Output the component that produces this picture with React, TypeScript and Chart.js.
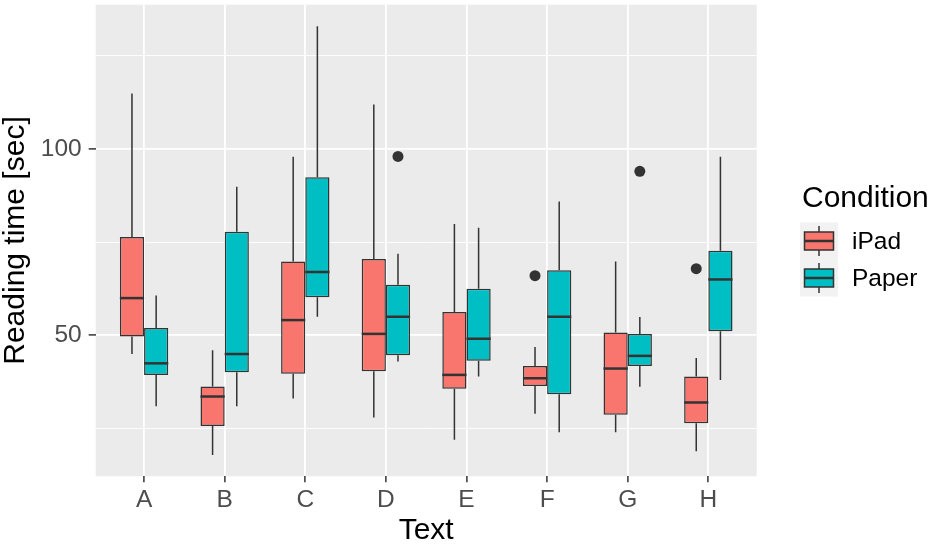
import { useEffect, useRef } from "react"
import { Chart, registerables } from "chart.js"

Chart.register(...registerables)

// texts on the x axis
const categories = ["A", "B", "C", "D", "E", "F", "G", "H"]

// iPad condition: five-number summaries per text, plus outliers
const ipadMin = [45.0, 17.9, 33.1, 28.0, 22.0, 29.0, 24.0, 18.9]
const ipadQ1 = [49.7, 25.7, 39.7, 40.4, 35.7, 36.4, 28.7, 26.4]
const ipadMedian = [60.0, 33.6, 54.1, 50.4, 39.4, 38.5, 41.1, 32.0]
const ipadQ3 = [76.4, 36.3, 69.8, 70.5, 56.3, 41.8, 50.8, 39.0]
const ipadMax = [114.9, 46.0, 97.9, 111.9, 79.9, 46.9, 69.8, 43.9]
const ipadOutliers = [[], [], [], [], [], [66.0], [], [67.9]]

// Paper condition
const paperMin = [31.0, 31.0, 55.0, 43.0, 39.0, 24.0, 36.2, 38.0]
const paperQ1 = [39.4, 40.1, 60.2, 44.7, 43.2, 34.2, 41.8, 51.1]
const paperMedian = [42.5, 45.0, 67.0, 55.0, 49.1, 55.0, 44.5, 65.0]
const paperQ3 = [52.0, 77.8, 92.4, 63.6, 62.5, 67.5, 50.4, 72.7]
const paperMax = [60.7, 89.9, 132.9, 71.9, 78.9, 85.9, 54.9, 97.9]
const paperOutliers = [[], [], [], [98.0], [], [], [94.0], []]

// y grid: labelled major lines and unlabelled minor lines
const yGridValues = [25, 50, 75, 100, 125]
const yTickLabels = [50, 100]

const FONT = "'Liberation Sans', Arial, Helvetica, sans-serif"
const LINE = "#333333"
const BOX_LW = 1.5
const MEDIAN_LW = 2.5

const series = [
  { label: "iPad", fill: "#F8766D", min: ipadMin, q1: ipadQ1, median: ipadMedian, q3: ipadQ3, max: ipadMax, outliers: ipadOutliers },
  { label: "Paper", fill: "#00BFC4", min: paperMin, q1: paperQ1, median: paperMedian, q3: paperQ3, max: paperMax, outliers: paperOutliers },
]

const panelPlugin = {
  id: "panel",
  beforeDraw(chart: any) {
    const { ctx, chartArea } = chart
    ctx.save()
    ctx.fillStyle = "#EBEBEB"
    ctx.fillRect(chartArea.left, chartArea.top, chartArea.right - chartArea.left, chartArea.bottom - chartArea.top)
    ctx.restore()
  },
}

const boxPartsPlugin = {
  id: "boxParts",
  beforeDatasetsDraw(chart: any) {
    // whiskers go under the boxes
    const { ctx } = chart
    const y = chart.scales.y
    ctx.save()
    ctx.strokeStyle = LINE
    ctx.lineWidth = BOX_LW
    series.forEach((s, d) => {
      chart.getDatasetMeta(d).data.forEach((bar: any, i: number) => {
        const { x } = bar.getProps(["x"], true)
        ctx.beginPath()
        ctx.moveTo(x, y.getPixelForValue(s.q3[i]))
        ctx.lineTo(x, y.getPixelForValue(s.max[i]))
        ctx.moveTo(x, y.getPixelForValue(s.q1[i]))
        ctx.lineTo(x, y.getPixelForValue(s.min[i]))
        ctx.stroke()
      })
    })
    ctx.restore()
  },
  afterDatasetsDraw(chart: any) {
    const { ctx } = chart
    const y = chart.scales.y
    ctx.save()
    series.forEach((s, d) => {
      chart.getDatasetMeta(d).data.forEach((bar: any, i: number) => {
        const { x, width } = bar.getProps(["x", "width"], true)
        const my = y.getPixelForValue(s.median[i])
        ctx.strokeStyle = LINE
        ctx.lineWidth = MEDIAN_LW
        ctx.beginPath()
        ctx.moveTo(x - width / 2, my)
        ctx.lineTo(x + width / 2, my)
        ctx.stroke()
        ctx.fillStyle = LINE
        s.outliers[i].forEach((v) => {
          ctx.beginPath()
          ctx.arc(x, y.getPixelForValue(v), 5.5, 0, Math.PI * 2)
          ctx.fill()
        })
      })
    })
    ctx.restore()
  },
}

const legendPlugin = {
  id: "boxLegend",
  afterDraw(chart: any) {
    const { ctx } = chart
    ctx.save()
    ctx.fillStyle = "#000000"
    ctx.font = `30px ${FONT}`
    ctx.textBaseline = "alphabetic"
    ctx.textAlign = "left"
    ctx.fillText("Condition", 802, 206.5)

    ctx.fillStyle = "#F2F2F2"
    ctx.fillRect(800, 222.5, 38, 74)

    series.forEach((s, k) => {
      const cy = 241 + k * 37
      ctx.strokeStyle = LINE
      ctx.lineWidth = BOX_LW
      ctx.beginPath()
      ctx.moveTo(819, cy - 15)
      ctx.lineTo(819, cy + 15)
      ctx.stroke()
      ctx.fillStyle = s.fill
      ctx.fillRect(804.5, cy - 9, 29, 18)
      ctx.strokeRect(804.5, cy - 9, 29, 18)
      ctx.lineWidth = MEDIAN_LW
      ctx.beginPath()
      ctx.moveTo(804.5, cy)
      ctx.lineTo(833.5, cy)
      ctx.stroke()

      ctx.fillStyle = "#000000"
      ctx.font = `24.5px ${FONT}`
      ctx.textBaseline = "middle"
      ctx.fillText(s.label, 852, cy + 1)
    })
    ctx.restore()
  },
}

export default function App() {
  const chartRef = useRef<HTMLCanvasElement>(null)
  const chartInstance = useRef<Chart | null>(null)

  useEffect(() => {
    if (!chartRef.current) return
    if (chartInstance.current) chartInstance.current.destroy()
    const ctx = chartRef.current.getContext("2d")
    if (!ctx) return

    chartInstance.current = new Chart(ctx, {
      type: "bar",
      data: {
        datasets: series.map((s) => ({
          label: s.label,
          data: categories.map((_, i) => ({ x: i, y: [s.q1[i], s.q3[i]] })) as any,
          backgroundColor: s.fill,
          borderColor: LINE,
          borderWidth: BOX_LW,
          borderSkipped: false,
          categoryPercentage: 0.6,
          barPercentage: 1.0,
        })),
      },
      options: {
        responsive: false,
        animation: false,
        events: [],
        layout: { padding: { top: 4.7, right: 178.3, left: 0, bottom: 0 } },
        plugins: {
          legend: { display: false },
          tooltip: { enabled: false },
        },
        scales: {
          x: {
            type: "linear",
            min: -0.6,
            max: 7.6,
            offset: false,
            afterBuildTicks: (axis: any) => {
              axis.ticks = categories.map((_, i) => ({ value: i }))
            },
            afterFit: (axis: any) => {
              axis.height = 70.7
              axis.paddingLeft = 0
              axis.paddingRight = 0
            },
            border: { display: false },
            grid: {
              offset: false,
              color: "#FFFFFF",
              lineWidth: 1.8,
              tickColor: LINE,
              tickLength: 6,
              tickWidth: BOX_LW,
            },
            ticks: {
              autoSkip: false,
              maxRotation: 0,
              padding: 3,
              color: "#4D4D4D",
              font: { family: FONT, size: 24.5 },
              callback: (v: any) => categories[v] ?? "",
            },
            title: {
              display: true,
              text: "Text",
              color: "#000000",
              font: { family: FONT, size: 30, lineHeight: 1 },
              padding: { top: 0, bottom: 1 },
            },
          },
          y: {
            min: 12.2,
            max: 138.7,
            beginAtZero: false,
            afterBuildTicks: (axis: any) => {
              axis.ticks = yGridValues.map((v) => ({ value: v }))
            },
            afterFit: (axis: any) => {
              axis.width = 95.7
              axis.paddingTop = 0
              axis.paddingBottom = 0
            },
            border: { display: false },
            grid: {
              color: "#FFFFFF",
              lineWidth: (c: any) => (yTickLabels.includes(c.tick?.value) ? 1.8 : 0.9),
              tickColor: (c: any) => (yTickLabels.includes(c.tick?.value) ? LINE : "rgba(0,0,0,0)"),
              tickLength: 7,
              tickWidth: BOX_LW,
            },
            ticks: {
              autoSkip: false,
              padding: 7,
              color: "#4D4D4D",
              font: { family: FONT, size: 24.5 },
              callback: (v: any) => (yTickLabels.includes(v) ? String(v) : ""),
            },
            title: {
              display: true,
              text: "Reading time [sec]",
              color: "#000000",
              font: { family: FONT, size: 30, lineHeight: 1 },
              padding: { top: 1, bottom: 0 },
            },
          },
        },
      },
      plugins: [panelPlugin, boxPartsPlugin, legendPlugin],
    })

    return () => {
      if (chartInstance.current) {
        chartInstance.current.destroy()
        chartInstance.current = null
      }
    }
  }, [])

  return (
    <div style={{ position: "absolute", left: 0, top: 0, width: 935, height: 547, background: "#FFFFFF" }}>
      <canvas ref={chartRef} width={935} height={547} />
    </div>
  )
}
